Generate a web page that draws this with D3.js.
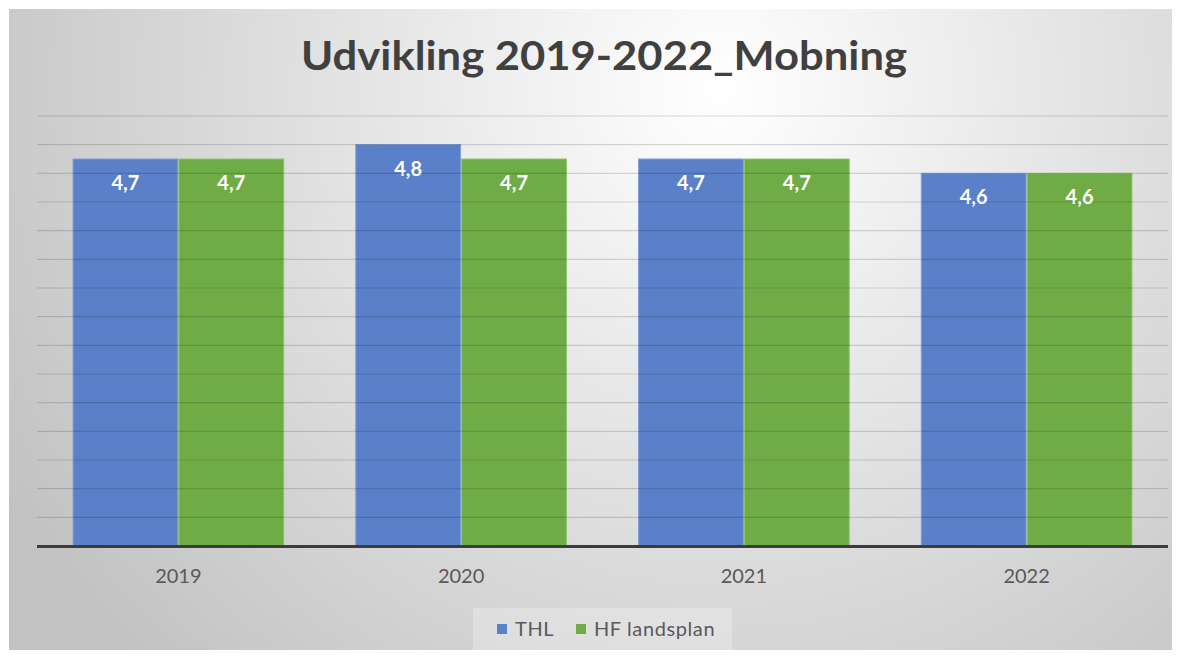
<!DOCTYPE html>
<html>
<head>
<meta charset="utf-8">
<script src="https://cdn.jsdelivr.net/npm/d3@7"></script>
<style>
  body { margin: 0; background: #fff; }
  svg { display: block; }
</style>
</head>
<body>
<div id="chart"></div>
<script>
const years = ["2019", "2020", "2021", "2022"];
const seriesNames = ["THL", "HF landsplan"];
const thlValues = [4.7, 4.8, 4.7, 4.6];
const hfValues = [4.7, 4.7, 4.7, 4.6];
const gridTicks = [2, 2.2, 2.4, 2.6, 2.8, 3, 3.2, 3.4, 3.6, 3.8, 4, 4.2, 4.4, 4.6, 4.8, 5];
const colors = ["#5a80c9", "#6fac46"];

const width = 1181, height = 658;
const plotLeft = 37, plotRight = 1168, plotTop = 116, plotBottom = 546;
const font = "Lato, 'Open Sans', sans-serif";

const svg = d3.select("#chart").append("svg")
    .attr("width", width)
    .attr("height", height);

// background gradient
const defs = svg.append("defs");
const grad = defs.append("radialGradient")
    .attr("id", "bg")
    .attr("gradientUnits", "userSpaceOnUse")
    .attr("cx", 720).attr("cy", 90).attr("r", 820);
grad.append("stop").attr("offset", "0%").attr("stop-color", "#ffffff");
grad.append("stop").attr("offset", "100%").attr("stop-color", "#c2c2c2");

svg.append("rect")
    .attr("x", 9).attr("y", 9)
    .attr("width", 1163).attr("height", 641)
    .attr("fill", "url(#bg)");

// scales
const x0 = d3.scaleBand().domain(years).range([plotLeft, plotRight]).paddingInner(0.255).paddingOuter(0.1275);
const x1 = d3.scaleBand().domain(seriesNames).range([0, x0.bandwidth()]).paddingInner(0.01);
const y = d3.scaleLinear().domain([2, 5]).range([plotBottom, plotTop]);

const data = years.map((yr, i) => ({ year: yr, values: [thlValues[i], hfValues[i]] }));

// bars
const groups = svg.append("g").selectAll("g")
    .data(data)
    .enter().append("g")
    .attr("transform", d => `translate(${x0(d.year)},0)`);

groups.selectAll("rect")
    .data(d => d.values.map((v, j) => ({ name: seriesNames[j], v, j })))
    .enter().append("rect")
    .attr("x", d => x1(d.name))
    .attr("y", d => y(d.v))
    .attr("width", x1.bandwidth())
    .attr("height", d => plotBottom - y(d.v))
    .attr("fill", d => colors[d.j])
    .attr("stroke", d => d.j === 0 ? "#7d9ed9" : "#8dc56b")
    .attr("stroke-width", 1);

// gridlines (drawn over bars, faint, like the see-through look of the original)
svg.append("g").selectAll("line")
    .data(gridTicks.slice(1))
    .enter().append("line")
    .attr("x1", plotLeft).attr("x2", plotRight)
    .attr("y1", d => y(d)).attr("y2", d => y(d))
    .attr("stroke", "#000")
    .attr("stroke-opacity", 0.14)
    .attr("stroke-width", 1.2);

// data labels
groups.selectAll("text")
    .data(d => d.values.map((v, j) => ({ name: seriesNames[j], v, j })))
    .enter().append("text")
    .attr("x", d => x1(d.name) + x1.bandwidth() / 2)
    .attr("y", d => y(d.v) + 31)
    .attr("text-anchor", "middle")
    .attr("fill", "#ffffff")
    .attr("font-family", font)
    .attr("font-weight", "bold")
    .attr("font-size", 20)
    .text(d => d3.format(".1f")(d.v).replace(".", ","));

// x axis
const xAxis = svg.append("g")
    .attr("transform", `translate(0,${plotBottom})`)
    .call(d3.axisBottom(x0).tickSize(0).tickPadding(23));
xAxis.select(".domain").remove();
xAxis.selectAll("text")
    .attr("font-family", font)
    .attr("font-size", 20)
    .attr("fill", "#595959");

svg.append("line")
    .attr("x1", plotLeft).attr("x2", plotRight)
    .attr("y1", plotBottom + 0.5).attr("y2", plotBottom + 0.5)
    .attr("stroke", "#3c3c3c")
    .attr("stroke-width", 3);

// title
svg.append("text")
    .attr("x", 604)
    .attr("y", 70)
    .attr("text-anchor", "middle")
    .attr("font-family", font)
    .attr("font-weight", "bold")
    .attr("font-size", 40)
    .attr("textLength", 606)
    .attr("lengthAdjust", "spacingAndGlyphs")
    .attr("fill", "#404040")
    .text("Udvikling 2019-2022_Mobning");

// legend
const legend = svg.append("g");
legend.append("rect")
    .attr("x", 473).attr("y", 608)
    .attr("width", 259).attr("height", 44)
    .attr("fill", "#ffffff").attr("fill-opacity", 0.25);

const legendX = [497, 576];
seriesNames.forEach((name, i) => {
    legend.append("rect")
        .attr("x", legendX[i]).attr("y", 624)
        .attr("width", 10).attr("height", 10)
        .attr("fill", colors[i]);
    legend.append("text")
        .attr("x", legendX[i] + 18).attr("y", 636)
        .attr("font-family", font)
        .attr("font-size", 20)
        .attr("letter-spacing", 0.6)
        .attr("fill", "#595959")
        .text(name);
});
</script>
</body>
</html>
